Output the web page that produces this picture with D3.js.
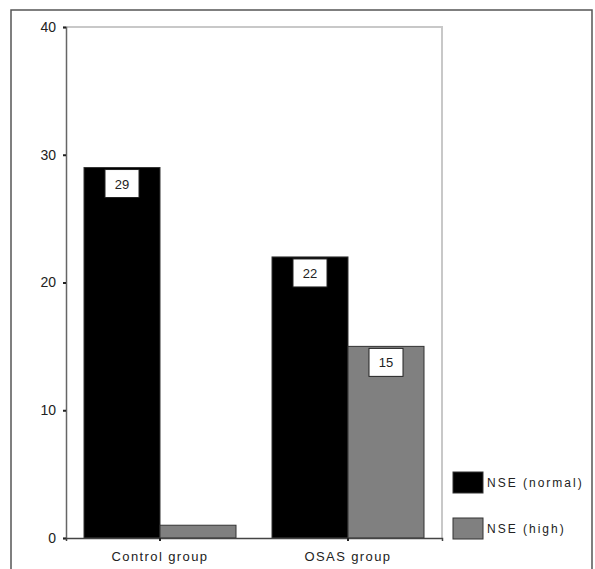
<!DOCTYPE html>
<html><head><meta charset="utf-8">
<script src="https://cdn.jsdelivr.net/npm/d3@7"></script>
<style>body{margin:0;background:#fff}svg{display:block}text{font-family:"Liberation Sans",Arial,sans-serif;fill:#222}</style>
</head><body><svg id="c" width="595" height="569"></svg>
<script>
const categories = ["Control group", "OSAS group"];
const seriesNames = ["NSE (normal)", "NSE (high)"];
const normalValues = [29, 22];
const highValues = [1, 15];
const yTicks = [0, 10, 20, 30, 40];
const colors = ["#000000", "#808080"];

const svg = d3.select("#c");
const m = {l: 66, r: 442, t: 27, b: 538};

// outer frame
svg.append("rect").attr("x", 11).attr("y", 10).attr("width", 581).attr("height", 580)
  .attr("fill", "none").attr("stroke", "#555").attr("stroke-width", 1.5);

const x0 = d3.scaleBand().domain(categories).range([m.l, m.r]).paddingInner(0).paddingOuter(0);
const x1 = d3.scaleBand().domain(seriesNames).range([18, x0.bandwidth() - 18]);
const y = d3.scaleLinear().domain([0, 40]).range([m.b, m.t]);

// plot border (top/right light gray)
svg.append("path").attr("d", `M${m.l},${m.t}H${m.r}V${m.b}`).attr("fill", "none")
  .attr("stroke", "#c8c8c8").attr("stroke-width", 2);

const data = categories.map((c, i) => ({cat: c, vals: [normalValues[i], highValues[i]]}));

const g = svg.append("g");
data.forEach(d => {
  d.vals.forEach((v, j) => {
    const bx = x0(d.cat) + x1(seriesNames[j]);
    g.append("rect").attr("x", bx).attr("y", y(v)).attr("width", x1.bandwidth()).attr("height", y(0) - y(v))
      .attr("fill", colors[j]).attr("stroke", "#333").attr("stroke-width", 1);
    if (v > 1) {
      const cx = bx + x1.bandwidth() / 2;
      g.append("rect").attr("x", cx - 17).attr("y", y(v) + 2).attr("width", 34).attr("height", 28)
        .attr("fill", "#fff").attr("stroke", "#222").attr("stroke-width", 1);
      g.append("text").attr("x", cx).attr("y", y(v) + 21).attr("text-anchor", "middle")
        .attr("font-size", 13).attr("fill", "#333").text(v);
    }
  });
});

// y axis
const ya = svg.append("g").attr("transform", `translate(${m.l},0)`)
  .call(d3.axisLeft(y).tickValues(yTicks).tickSize(3).tickPadding(7));
ya.select(".domain").attr("stroke", "#666").attr("stroke-width", 1.5);
ya.selectAll(".tick line").attr("stroke", "#222").attr("stroke-width", 2);
ya.selectAll("text").attr("font-size", 14).attr("fill", "#444").style("font-family", "Liberation Sans, Arial, sans-serif");

// x axis
const xa = svg.append("g").attr("transform", `translate(0,${m.b})`)
  .call(d3.axisBottom(x0).tickSize(3).tickPadding(11));
xa.select(".domain").attr("stroke", "#444").attr("stroke-width", 1.5);
xa.selectAll(".tick line").attr("stroke", "#222").attr("stroke-width", 2);
xa.selectAll("text").attr("font-size", 13).attr("fill", "#333").attr("letter-spacing", 1.4)
  .style("font-family", "Liberation Sans, Arial, sans-serif");

// legend
const leg = svg.append("g");
seriesNames.forEach((s, i) => {
  const ly = 472 + i * 46;
  leg.append("rect").attr("x", 453).attr("y", ly).attr("width", 30).attr("height", 21)
    .attr("fill", colors[i]).attr("stroke", "#333").attr("stroke-width", 1);
  leg.append("text").attr("x", 487).attr("y", ly + 15).attr("font-size", 12).attr("letter-spacing", 2)
    .attr("fill", "#333").text(s);
});
</script></body></html>
